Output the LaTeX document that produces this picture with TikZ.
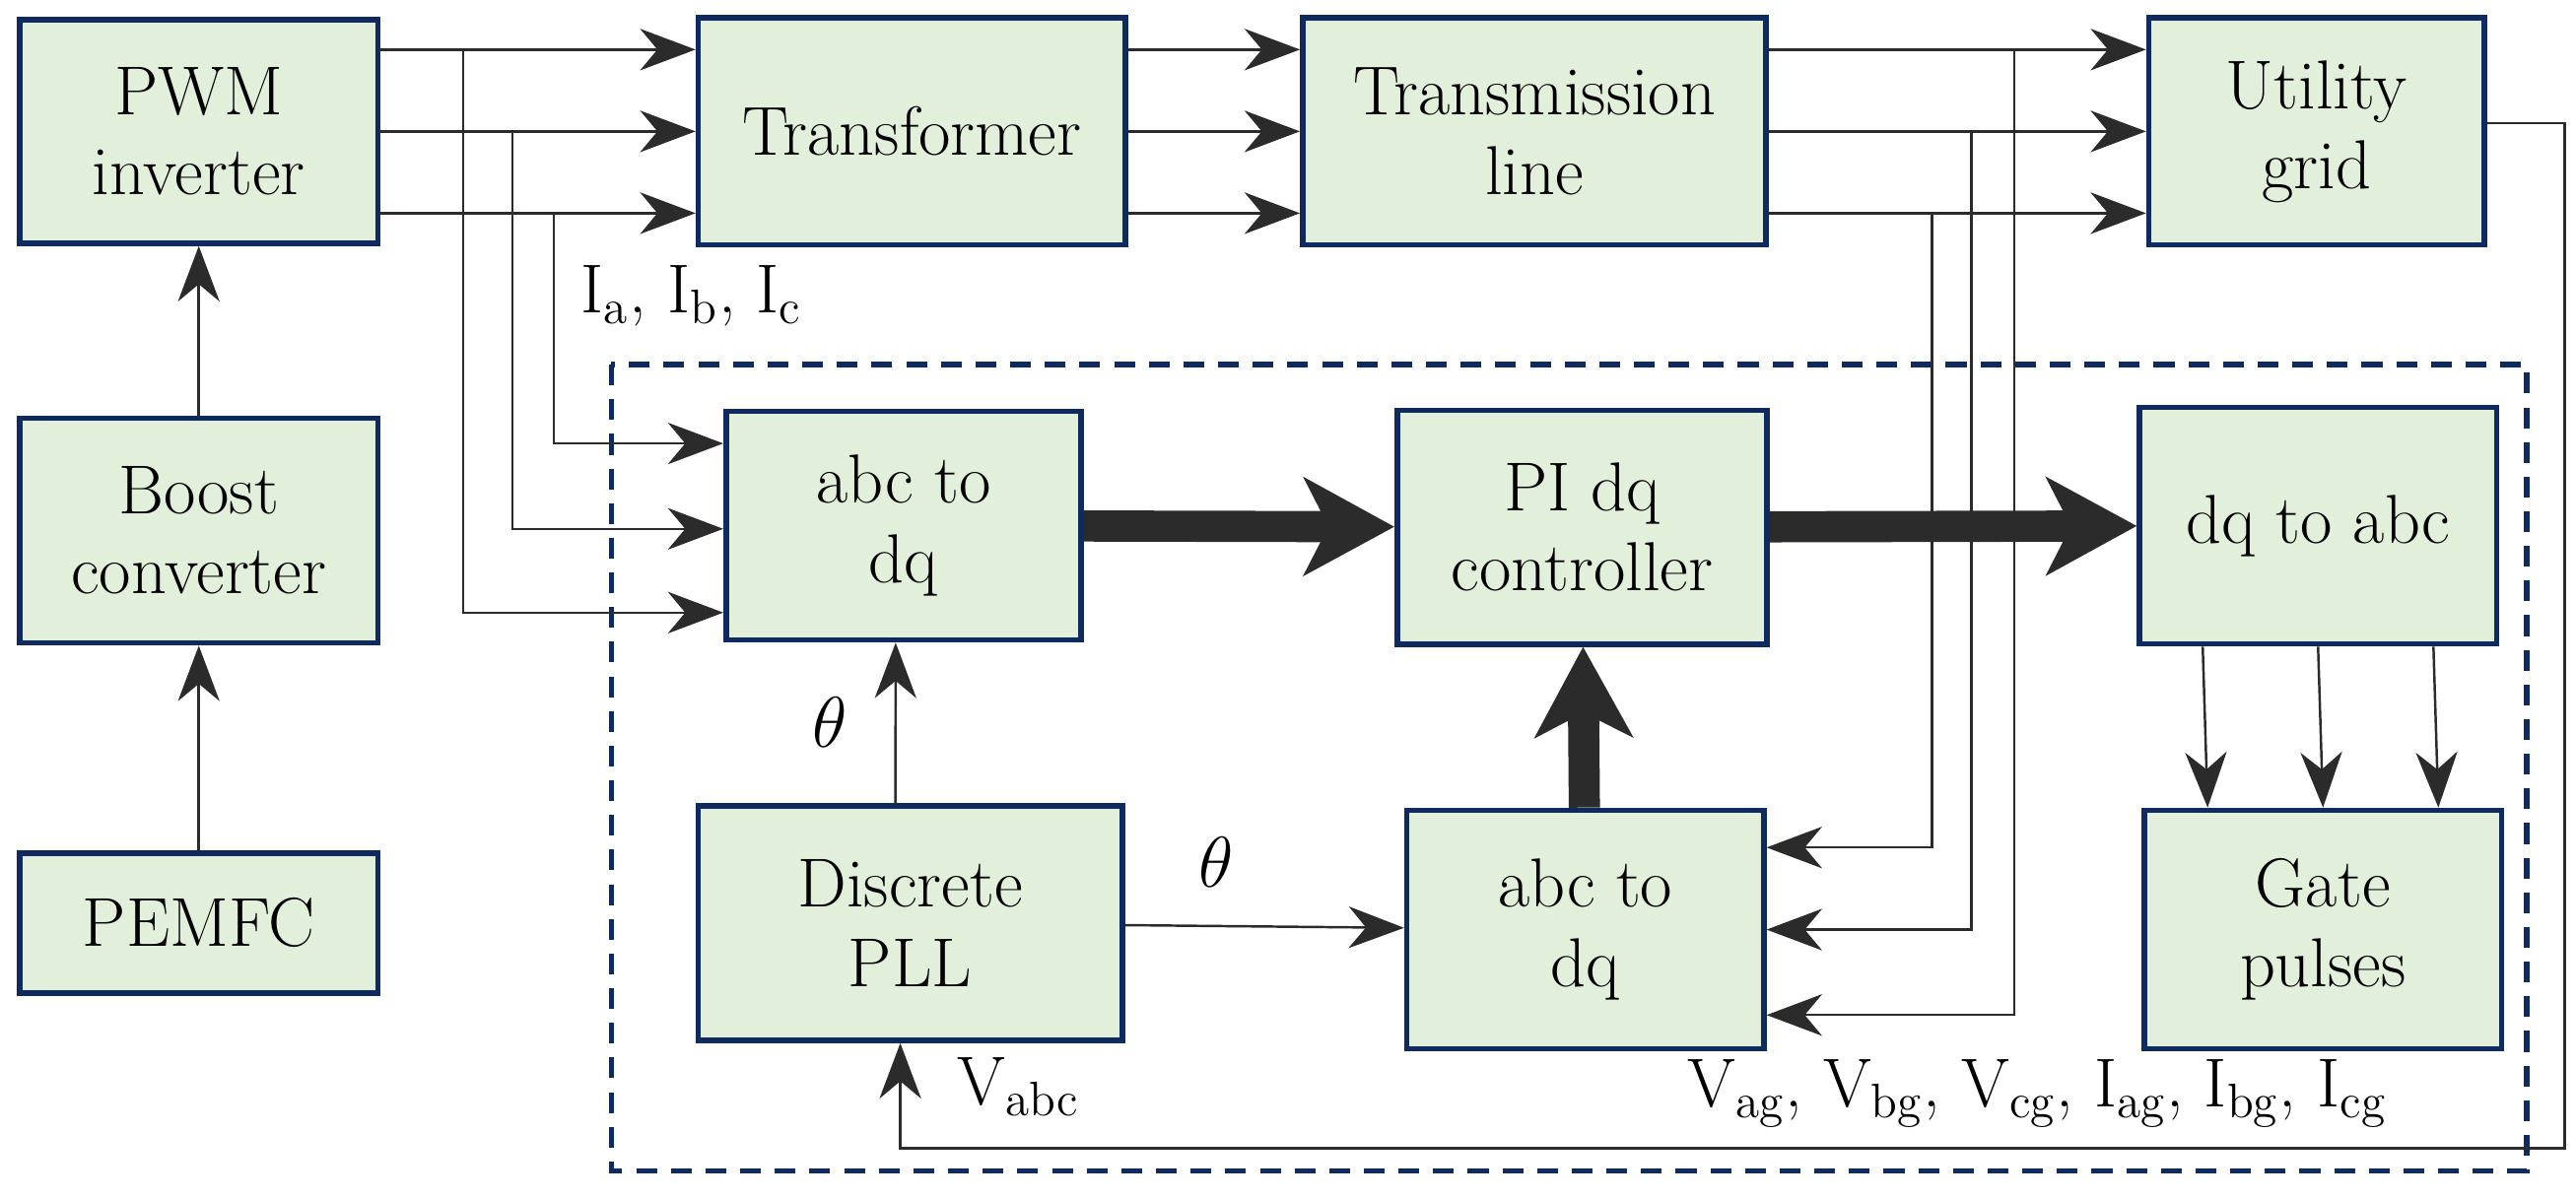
\documentclass[tikz,border=0pt]{standalone}
\usetikzlibrary{arrows.meta}
\definecolor{blkfill}{HTML}{E2EFDA}
\definecolor{navy}{HTML}{0E2A5E}
\definecolor{ink}{HTML}{2B2B2B}
\begin{document}
\begin{tikzpicture}[x=0.016667cm,y=-0.016667cm]
			\tikzstyle{blk} = [draw=navy, line width=1.6pt, fill=blkfill, rectangle, inner sep=0pt, align=center, font=\fontsize{20}{23}\selectfont]
			\tikzstyle{arr} = [draw=ink, line width=0.7pt, -{Stealth[length=16pt,width=12pt,inset=5pt]}]
			\tikzstyle{thk} = [draw=ink, line width=9pt, -{Stealth[length=26pt,width=28pt,inset=7pt]}]
			\tikzstyle{lbl} = [font=\fontsize{20}{23}\selectfont, text=black]

			\useasboundingbox (0,0) rectangle (1568,729.6);

			\node[blk, minimum width=3.63cm, minimum height=2.27cm] (pwm) at (121,80) {PWM\\inverter};
			\node[blk, minimum width=3.63cm, minimum height=2.28cm] (boost) at (121,323) {Boost\\converter};
			\node[blk, minimum width=3.63cm, minimum height=1.42cm] (pemfc) at (121,562) {PEMFC};
			\node[blk, minimum width=4.33cm, minimum height=2.30cm] (trf) at (555,80) {Transformer};
			\node[blk, minimum width=4.70cm, minimum height=2.30cm] (tline) at (934,80) {Transmission\\line};
			\node[blk, minimum width=3.40cm, minimum height=2.30cm] (grid) at (1410,80) {Utility\\grid};

			\node[blk, minimum width=3.60cm, minimum height=2.32cm] (abcin) at (550,320) {abc to\\dq};
			\node[blk, minimum width=3.75cm, minimum height=2.37cm] (pi) at (963,321) {PI dq\\controller};
			\node[blk, minimum width=3.62cm, minimum height=2.40cm] (dqabc) at (1411,320) {dq to abc};
			\node[blk, minimum width=4.30cm, minimum height=2.38cm] (pll) at (554,562) {Discrete\\PLL};
			\node[blk, minimum width=3.62cm, minimum height=2.42cm] (abcgr) at (965,566) {abc to\\dq};
			\node[blk, minimum width=3.62cm, minimum height=2.42cm] (gate) at (1414,566) {Gate\\pulses};

			% control block frame
			\draw[navy, line width=1.5pt, dash pattern=on 6pt off 4pt] (372,222) rectangle (1538,713);

			% power path
			\foreach \s in {-0.83,0,0.83} {
				\draw[arr] ([yshift=\s cm]pwm.east) -- ([yshift=\s cm]trf.west);
				\draw[arr] ([yshift=\s cm]trf.east) -- ([yshift=\s cm]tline.west);
				\draw[arr] ([yshift=\s cm]tline.east) -- ([yshift=\s cm]grid.west);
			}
			\draw[arr] (pemfc) -- (boost);
			\draw[arr] (boost) -- (pwm);

			% inverter current taps
			\coordinate (ia) at (282,30);
			\coordinate (ib) at (312,80);
			\coordinate (ic) at (337,130);
			\draw[arr] (ic) |- (abcin.west |- 0,270);
			\draw[arr] (ib) |- (abcin.west |- 0,322);
			\draw[arr] (ia) |- (abcin.west |- 0,373);
			\node[lbl] (iabc) at (421,180) {I\textsubscript{a}, I\textsubscript{b}, I\textsubscript{c}};

			% grid side taps
			\coordinate (va) at (1226,30);
			\coordinate (vb) at (1200,80);
			\coordinate (vc) at (1176,130);
			\draw[arr] (vc) |- (abcgr.east |- 0,516);
			\draw[arr] (vb) |- (abcgr.east |- 0,566);
			\draw[arr] (va) |- (abcgr.east |- 0,618);
			\node[lbl] (vgrid) at (1240,666) {V\textsubscript{ag}, V\textsubscript{bg}, V\textsubscript{cg}, I\textsubscript{ag}, I\textsubscript{bg}, I\textsubscript{cg}};

			% controller
			\draw[thk] (abcin) -- (pi);
			\draw[thk] (pi) -- (dqabc);
			\draw[thk] (abcgr) -- (pi);
			\draw[arr] ([xshift=-0.15cm]pll.north) -- ([xshift=-0.08cm]abcin.south);
			\node[lbl] (th1) at (505,440) {$\theta$};
			\draw[arr] (pll) -- (abcgr);
			\node[lbl] (th2) at (740,525) {$\theta$};
			\foreach \s in {-1.17,0,1.17}
				\draw[arr] ([xshift=\s cm]dqabc.south) -- ([xshift=\s cm]gate.north);

			% grid voltage feedback to PLL
			\coordinate (fb1) at (1561,75);
			\coordinate (fb2) at (1561,699);
			\draw[arr] (grid.east |- fb1) -- (fb1) -- (fb2) -| ([xshift=-0.1cm]pll.south);
			\node[lbl] (vabc) at (620,662) {V\textsubscript{abc}};
\end{tikzpicture}
\end{document}
